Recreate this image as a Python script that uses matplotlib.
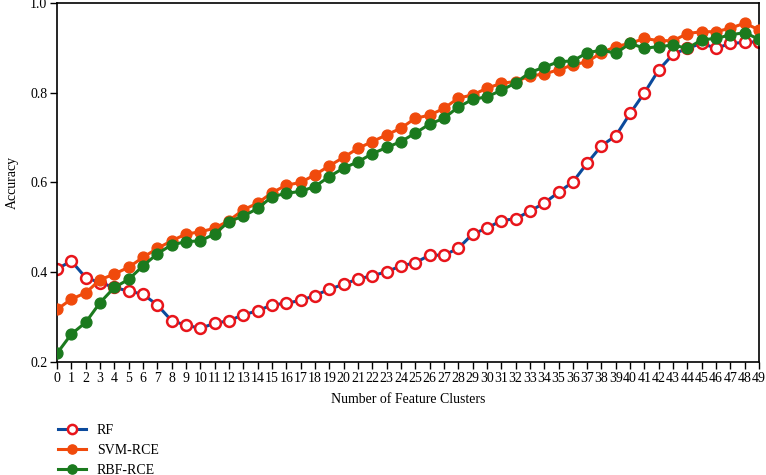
import matplotlib
matplotlib.use('Agg')
import matplotlib.pyplot as plt

plt.rcParams['font.family'] = ['Liberation Serif', 'DejaVu Serif']

# 特征簇数量
clusters = list(range(50))

rf = [0.407, 0.425, 0.388, 0.377, 0.366, 0.358, 0.351, 0.327, 0.292, 0.282,
      0.275, 0.286, 0.292, 0.305, 0.314, 0.327, 0.331, 0.337, 0.348, 0.362,
      0.373, 0.385, 0.392, 0.401, 0.414, 0.421, 0.438, 0.438, 0.453, 0.485,
      0.498, 0.515, 0.519, 0.536, 0.554, 0.578, 0.601, 0.643, 0.682, 0.704,
      0.754, 0.800, 0.851, 0.886, 0.899, 0.910, 0.899, 0.910, 0.912, 0.914]

svm_rce = [0.317, 0.340, 0.354, 0.383, 0.396, 0.411, 0.433, 0.453, 0.470, 0.485,
           0.490, 0.498, 0.515, 0.539, 0.554, 0.577, 0.594, 0.600, 0.617, 0.637,
           0.656, 0.676, 0.691, 0.706, 0.721, 0.743, 0.750, 0.765, 0.788, 0.795,
           0.810, 0.821, 0.825, 0.837, 0.842, 0.851, 0.862, 0.869, 0.889, 0.903,
           0.910, 0.921, 0.916, 0.916, 0.932, 0.936, 0.936, 0.944, 0.955, 0.940]

rbf_rce = [0.219, 0.262, 0.288, 0.332, 0.366, 0.384, 0.414, 0.441, 0.461, 0.468,
           0.470, 0.485, 0.513, 0.525, 0.542, 0.568, 0.576, 0.580, 0.591, 0.613,
           0.632, 0.646, 0.664, 0.678, 0.691, 0.710, 0.730, 0.743, 0.768, 0.785,
           0.791, 0.805, 0.822, 0.845, 0.857, 0.869, 0.871, 0.889, 0.895, 0.888,
           0.910, 0.899, 0.903, 0.906, 0.899, 0.918, 0.921, 0.929, 0.934, 0.919]

fig = plt.figure(figsize=(7.66, 4.75), dpi=100)
ax = fig.add_axes([0.0744, 0.238, 0.9166, 0.7557])

ax.plot(clusters, rf, '-o', color='#0b4a9c', lw=2.2, ms=7.8,
        mfc='white', mec='#e8151b', mew=1.8, label='RF', zorder=2)
ax.plot(clusters, svm_rce, '-o', color='#f04a0c', lw=2.2, ms=7.8,
        mfc='#f04a0c', mec='#f04a0c', label='SVM-RCE', zorder=3)
ax.plot(clusters, rbf_rce, '-o', color='#1b7a1e', lw=2.2, ms=7.8,
        mfc='#1b7a1e', mec='#1b7a1e', label='RBF-RCE', zorder=4)

ax.set_xlim(0, 49)
ax.set_ylim(0.2, 1.0)
ax.set_xticks(clusters)
ax.set_xticklabels([str(c) for c in clusters])
ax.set_yticks([0.2, 0.4, 0.6, 0.8, 1.0])
ax.tick_params(direction='out', length=5, width=1, labelsize=10, pad=2)
for s in ax.spines.values():
    s.set_linewidth(1.2)

ax.set_xlabel('Number of Feature Clusters', fontsize=10, labelpad=6)
ax.set_ylabel('Accuracy', fontsize=10, labelpad=8)

fig.legend(loc='upper left', bbox_to_anchor=(0.0757, 0.107), frameon=False,
           fontsize=10, handlelength=2.0, handletextpad=0.8, labelspacing=0.5,
           borderaxespad=0, borderpad=0, markerscale=0.85)

fig.savefig('out.png', dpi=100)
